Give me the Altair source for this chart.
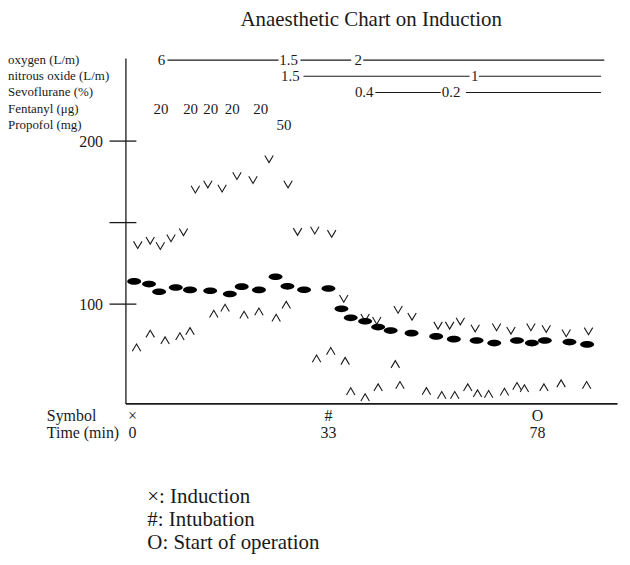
import altair as alt
import pandas as pd

FONT = "Liberation Serif"
INK = "#1a1a1a"
W, H = 494, 347

# ---------------- data read from the record ----------------
# event times (min) and their symbols
EVENT_T = [0, 33, 78]
EVENT_SYM = ["×", "#", "O"]
LEGEND = ["×: Induction", "#: Intubation", "O: Start of operation"]

# systolic pressure (V), diastolic pressure (^), heart rate (filled ellipse)
SYS_T = [0.9, 3.0, 4.7, 6.5, 8.6, 10.6, 12.7, 15.1, 17.6, 20.3, 23.0, 26.2, 27.8, 30.7, 33.7,
         36.3, 40.9, 43.4, 48.0, 51.0, 56.6, 59.1, 61.4, 64.6, 69.2, 72.3, 76.6, 79.9, 84.2, 89.0]
SYS_V = [136.3, 139.0, 135.7, 140.5, 144.2, 170.4, 173.5, 171.0, 178.7, 176.2, 189.0, 173.5, 144.4, 145.2, 143.2,
         103.4, 91.8, 89.9, 96.6, 92.4, 86.9, 86.9, 89.5, 85.2, 85.9, 83.8, 85.9, 84.9, 82.2, 83.4]
DIA_T = [0.7, 3.0, 5.5, 8.0, 9.7, 13.7, 15.6, 18.8, 21.3, 24.2, 25.9, 31.0, 33.5, 36.6, 37.8, 40.9,
         43.7, 47.4, 48.4, 54.1, 57.4, 60.2, 63.0, 65.1, 67.5, 70.9, 73.6, 75.2, 79.4, 83.1, 88.6]
DIA_V = [73.3, 81.8, 77.7, 80.2, 83.4, 94.0, 97.7, 93.4, 95.4, 91.6, 99.5, 66.6, 71.2, 65.1, 46.5, 42.8,
         48.9, 63.1, 50.3, 46.6, 44.2, 44.2, 48.9, 45.2, 44.8, 46.2, 49.7, 48.3, 48.9, 51.3, 50.3]
HR_T = [0.3, 2.8, 4.5, 7.3, 9.7, 13.1, 16.4, 18.4, 21.3, 24.1, 26.1, 28.9, 33.0, 35.8,
        37.8, 40.9, 43.7, 46.4, 50.9, 56.2, 60.0, 64.9, 68.7, 73.6, 76.8, 79.6, 84.9, 88.7]
HR_V = [113.9, 112.3, 107.6, 110.2, 108.7, 108.2, 106.2, 110.7, 108.7, 116.8, 110.9, 108.8, 109.6, 97.1,
        91.6, 89.5, 85.9, 83.8, 82.2, 80.2, 78.5, 77.7, 76.1, 77.7, 76.1, 77.7, 76.7, 75.3]

Y_TICKS = [100, 150, 200]
Y_LABELS = [100, 200]

# drug / gas rows
DRUG_ROWS = ["oxygen (L/m)", "nitrous oxide (L/m)", "Sevoflurane (%)", "Fentanyl (μg)", "Propofol (mg)"]
SET_ROW = ["oxygen (L/m)"] * 3 + ["nitrous oxide (L/m)"] * 2 + ["Sevoflurane (%)"] * 2 + \
          ["Fentanyl (μg)"] * 5 + ["Propofol (mg)"]
SET_T = [4.9, 26.3, 39.4, 26.6, 64.5, 40.7, 59.4, 4.8, 9.8, 13.2, 16.8, 21.6, 25.5]
SET_TXT = ["6", "1.5", "2", "1.5", "1", "0.4", "0.2", "20", "20", "20", "20", "20", "50"]
LINE_ROW = ["oxygen (L/m)"] * 3 + ["nitrous oxide (L/m)"] * 2 + ["Sevoflurane (%)"] * 2
LINE_T0 = [5.9, 28.3, 40.5, 28.8, 65.4, 43.1, 62.6]
LINE_T1 = [24.6, 37.9, 92.4, 63.4, 91.7, 57.2, 91.7]

BOTTOM_ROWS = ["Symbol", "Time (min)"]

# ---------------- scales ----------------
XS = alt.Scale(domain=[-1.17] + EVENT_T + [95.14], range=[0, 7, 204, 414, W], nice=False, zero=False)
YS = alt.Scale(domain=[39.1, 250.9], nice=False, zero=False)
X_AXIS = alt.Axis(labels=False, ticks=False, grid=False, title=None, domainColor=INK, domainWidth=1.6)
Y_AXIS = alt.Axis(values=Y_LABELS, ticks=False, tickSize=0, labelPadding=23, labelFont=FONT,
                  labelFontSize=16, labelColor=INK, domainColor=INK, domainWidth=1.3, grid=False, title=None)

V_PATH = "M-1,-0.85L0,0.85L1,-0.85"
A_PATH = "M-1,0.85L0,-0.85L1,0.85"
ELL_PATH = "M-1,0A1,0.48,0,1,0,1,0A1,0.48,0,1,0,-1,0Z"


def xq(field):
    return alt.X(field, scale=XS, axis=X_AXIS)


def yq(field):
    return alt.Y(field, scale=YS, axis=Y_AXIS)


sys_df = pd.DataFrame({"t": SYS_T, "v": SYS_V})
dia_df = pd.DataFrame({"t": DIA_T, "v": DIA_V})
hr_df = pd.DataFrame({"t": HR_T, "v": HR_V})
tick_df = pd.DataFrame({"v": Y_TICKS})

ticks = alt.Chart(tick_df).mark_rule(color=INK, strokeWidth=1.3).encode(
    y=yq("v:Q"), x=alt.value(-16), x2=alt.value(11))
sys_l = alt.Chart(sys_df).mark_point(shape=V_PATH, filled=False, color=INK, strokeWidth=1.1,
                                     size=72, opacity=1).encode(x=xq("t:Q"), y=yq("v:Q"))
dia_l = alt.Chart(dia_df).mark_point(shape=A_PATH, filled=False, color=INK, strokeWidth=1.1,
                                     size=72, opacity=1).encode(x=xq("t:Q"), y=yq("v:Q"))
hr_l = alt.Chart(hr_df).mark_point(shape=ELL_PATH, filled=True, color="black", size=196,
                                   opacity=1).encode(x=xq("t:Q"), y=yq("v:Q"))
vitals = alt.layer(ticks, sys_l, dia_l, hr_l)

# drug rows
RY = alt.Scale(type="point", domain=DRUG_ROWS, range=[2, 67], padding=0)
set_df = pd.DataFrame({"row": SET_ROW, "t": SET_T, "txt": SET_TXT})
line_df = pd.DataFrame({"row": LINE_ROW, "t0": LINE_T0, "t1": LINE_T1})
lab_df = pd.DataFrame({"row": DRUG_ROWS})

d_lines = alt.Chart(line_df).mark_rule(color=INK, strokeWidth=1.1).encode(
    y=alt.Y("row:N", scale=RY, axis=None), x=xq("t0:Q"), x2="t1:Q")
d_text = alt.Chart(set_df).mark_text(font=FONT, fontSize=15, color=INK, baseline="middle").encode(
    y=alt.Y("row:N", scale=RY, axis=None), x=xq("t:Q"), text="txt:N")
d_lab = alt.Chart(lab_df).mark_text(font=FONT, fontSize=13, color=INK, align="left", baseline="middle").encode(
    y=alt.Y("row:N", scale=RY, axis=None), x=alt.value(-118), text="row:N")
drugs = alt.layer(d_lines, d_text, d_lab)

# bottom symbol / time rows
BY = alt.Scale(type="point", domain=BOTTOM_ROWS, range=[360, 377], padding=0)
ev_df = pd.DataFrame({"t": EVENT_T * 2,
                      "row": ["Symbol"] * len(EVENT_T) + ["Time (min)"] * len(EVENT_T),
                      "txt": EVENT_SYM + [str(t) for t in EVENT_T]})
blab_df = pd.DataFrame({"row": BOTTOM_ROWS})
b_text = alt.Chart(ev_df).mark_text(font=FONT, fontSize=16, color=INK, baseline="middle").encode(
    y=alt.Y("row:N", scale=BY, axis=None), x=xq("t:Q"), text="txt:N")
b_lab = alt.Chart(blab_df).mark_text(font=FONT, fontSize=16, color=INK, align="left", baseline="middle").encode(
    y=alt.Y("row:N", scale=BY, axis=None), x=alt.value(-79), text="row:N")
bottom = alt.layer(b_text, b_lab)

# legend text
LY = alt.Scale(type="point", domain=LEGEND, range=[441, 487], padding=0)
leg_df = pd.DataFrame({"item": LEGEND})
legend = alt.Chart(leg_df).mark_text(font=FONT, fontSize=21, color=INK, align="left", baseline="middle").encode(
    y=alt.Y("item:N", scale=LY, axis=None), x=alt.value(22), text="item:N")

chart = alt.layer(vitals, drugs, bottom, legend).resolve_scale(y="independent").properties(
    width=W, height=H,
    padding={"left": 0, "top": 0, "right": 5, "bottom": 5},
    title=alt.TitleParams("Anaesthetic Chart on Induction", font=FONT, fontSize=21, fontWeight="normal",
                          color=INK, anchor="middle", offset=23),
).configure_view(stroke=None)

chart.save("out.html", embed_options={"renderer": "svg", "actions": False})
